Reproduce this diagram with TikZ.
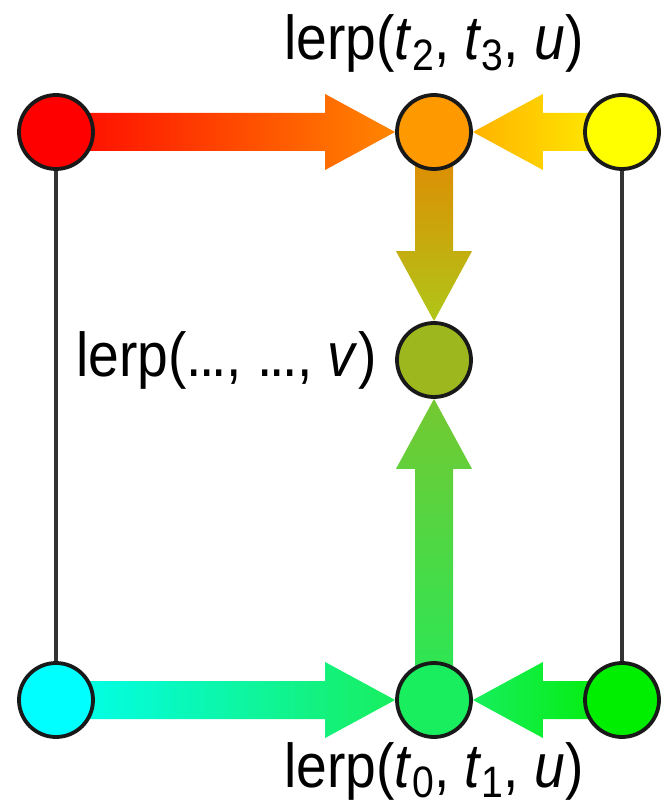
\documentclass[tikz,border=0pt]{standalone}
\usepackage{fontspec}
\setmainfont[FakeStretch=0.89]{Liberation Sans}
\usetikzlibrary{calc,backgrounds}

\definecolor{cRed}{HTML}{FF0000}
\definecolor{cOrange}{HTML}{FF9900}
\definecolor{cYellow}{HTML}{FFFF00}
\definecolor{cOlive}{HTML}{9CB81E}
\definecolor{cCyan}{HTML}{00FFFF}
\definecolor{cGreen}{HTML}{18EE5E}
\definecolor{cLime}{HTML}{00EE00}

% subscripted variable, e.g. t_2
\newcommand{\tsub}[2]{\textit{#1}\raisebox{-0.17em}{\fontsize{22}{22}\selectfont #2}}
% tight dots
\newcommand{\tdots}{.\kern-1.5pt.\kern-1.5pt.}

% fat shaded arrows: tail node, tip anchor, shading
\newcommand{\shaftw}{9.5pt}
\newcommand{\headw}{19pt}
\newcommand{\headl}{35pt}
\newcommand{\hfat}[3]{\shade[#3] let \p1=(#1.center), \p2=(#2), \n1={sign(\x2-\x1)} in
  (\x1,\y1+\shaftw) -- (\x2-\n1*\headl,\y1+\shaftw) -- (\x2-\n1*\headl,\y1+\headw) -- (\x2,\y1)
  -- (\x2-\n1*\headl,\y1-\headw) -- (\x2-\n1*\headl,\y1-\shaftw) -- (\x1,\y1-\shaftw) -- cycle;}
\newcommand{\vfat}[3]{\shade[#3] let \p1=(#1.center), \p2=(#2), \n1={sign(\y2-\y1)} in
  (\x1+\shaftw,\y1) -- (\x1+\shaftw,\y2-\n1*\headl) -- (\x1+\headw,\y2-\n1*\headl) -- (\x1,\y2)
  -- (\x1-\headw,\y2-\n1*\headl) -- (\x1-\shaftw,\y2-\n1*\headl) -- (\x1-\shaftw,\y1) -- cycle;}

\begin{document}
\begin{tikzpicture}[x=0.5pt, y=-0.5pt,
	dot/.style={circle, draw=black!90, line width=1.9pt, minimum size=37pt, inner sep=0pt},
	lbl/.style={inner sep=0pt, font=\fontsize{31}{36}\selectfont},
	edge/.style={draw=black!80, line width=1.7pt}]
	\useasboundingbox (0,0) rectangle (661,806);

	% corner and interpolated points
	\node[dot, fill=cRed] (red) at (56,132) {};
	\node[dot, fill=cOrange] (ora) at (434,132) {};
	\node[dot, fill=cYellow] (yel) at (622,132) {};
	\node[dot, fill=cOlive] (olv) at (434,360) {};
	\node[dot, fill=cCyan] (cyn) at (56,700) {};
	\node[dot, fill=cGreen] (grn) at (434,700) {};
	\node[dot, fill=cLime] (lim) at (622,700) {};

	\node[lbl, anchor=base] (lblTop) at (434,60) {lerp(\tsub{t}{2}, \tsub{t}{3}, \textit{u})};
	\node[lbl, anchor=base east] (lblMid) at (377,376) {lerp(\tdots, \tdots, \textit{v})};
	\node[lbl, anchor=base] (lblBot) at (434,787) {lerp(\tsub{t}{0}, \tsub{t}{1}, \textit{u})};

	\begin{scope}[on background layer]
		\draw[edge] (red) -- (cyn);
		\draw[edge] (yel) -- (lim);
		\hfat{red}{ora.west}{left color=red!95!orange, right color=orange!95!yellow}
		\hfat{yel}{ora.east}{left color=orange!60!yellow, right color=yellow!90!orange}
		\vfat{ora}{olv.north}{top color=orange!85!yellow!90!black, bottom color=cOlive!80!yellow}
		\hfat{cyn}{grn.west}{left color=cCyan!95!green, right color=cGreen}
		\hfat{lim}{grn.east}{left color=cGreen, right color=cLime}
		\vfat{grn}{olv.south}{bottom color=cGreen!90!cOlive, top color=cOlive!70!cGreen}
	\end{scope}
\end{tikzpicture}
\end{document}
